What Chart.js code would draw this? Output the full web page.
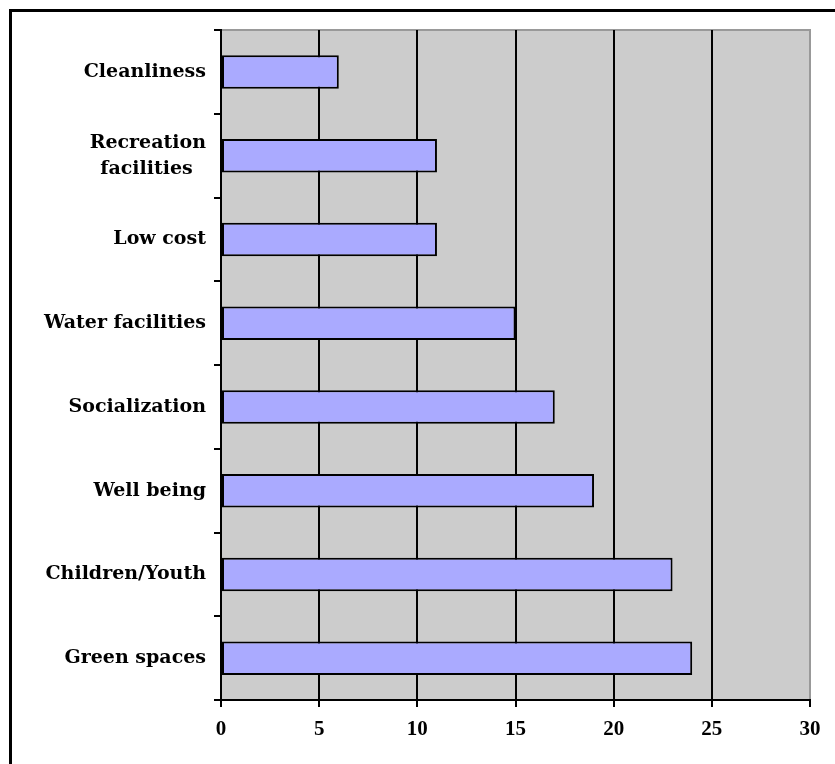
<!DOCTYPE html>
<html>
<head>
<meta charset="utf-8">
<script src="https://cdn.jsdelivr.net/npm/chart.js@4"></script>
<style>
    html, body { margin: 0; padding: 0; background: #fff; }
    #wrap { width: 835px; height: 764px; position: relative; }
</style>
</head>
<body>
<div id="wrap"><canvas id="chart" width="835" height="764"></canvas></div>
<script>
const categories = [
    "Cleanliness",
    ["Recreation", "facilities"],
    "Low cost",
    "Water facilities",
    "Socialization",
    "Well being",
    "Children/Youth",
    "Green spaces"
];
const counts = [6, 11, 11, 15, 17, 19, 23, 24];
const xTicks = [0, 5, 10, 15, 20, 25, 30];

const labelFont = { family: "'DejaVu Serif'", size: 19, weight: 'bold', lineHeight: 1.37 };
const tickFont = { family: "'Liberation Serif'", size: 21, weight: 'bold' };

// pad the shorter line of a two-line label so that lines look centred
const measure = document.createElement('canvas').getContext('2d');
measure.font = `bold ${labelFont.size}px ${labelFont.family}`;
function centreLines(label) {
    if (!Array.isArray(label)) return label;
    const widest = Math.max(...label.map(s => measure.measureText(s).width));
    const space = measure.measureText(' ').width;
    return label.map(s => {
        const n = Math.round((widest - measure.measureText(s).width) / 2 / space);
        return s + ' '.repeat(n);
    });
}

const plotBackground = {
    id: 'plotBackground',
    beforeDraw(chart) {
        const { ctx, chartArea: a } = chart;
        ctx.save();
        ctx.fillStyle = '#CCCCCC';
        ctx.fillRect(a.left, a.top, a.right - a.left, a.bottom - a.top);
        ctx.strokeStyle = '#999999';
        ctx.lineWidth = 2;
        ctx.beginPath();
        ctx.moveTo(a.left, a.top);
        ctx.lineTo(a.right, a.top);
        ctx.lineTo(a.right, a.bottom);
        ctx.stroke();
        ctx.restore();
    },
    afterDraw(chart) {
        const ctx = chart.ctx;
        ctx.save();
        ctx.strokeStyle = '#000';
        ctx.lineWidth = 3;
        ctx.strokeRect(10.5, 10.5, 1000, 1000);
        ctx.restore();
    }
};

new Chart(document.getElementById('chart'), {
    type: 'bar',
    data: {
        labels: categories,
        datasets: [{
            data: counts,
            backgroundColor: '#AAAAFF',
            borderColor: '#000000',
            borderWidth: 2,
            borderSkipped: false,
            barPercentage: 0.4,
            categoryPercentage: 1
        }]
    },
    options: {
        indexAxis: 'y',
        responsive: false,
        animation: false,
        devicePixelRatio: 1,
        layout: { padding: { top: 30, right: 25, left: 0, bottom: 0 } },
        plugins: {
            legend: { display: false },
            tooltip: { enabled: false }
        },
        scales: {
            x: {
                min: 0,
                max: 30,
                afterBuildTicks(scale) {
                    scale.ticks = xTicks.map(v => ({ value: v }));
                },
                afterFit(scale) { scale.height = 64; },
                border: { color: '#000', width: 2 },
                grid: {
                    lineWidth: 2,
                    color: c => c.tick.value === 0 ? 'rgba(0,0,0,0)' :
                        (c.tick.value === 30 ? '#999999' : '#000'),
                    tickColor: '#000',
                    tickLength: 7
                },
                ticks: { color: '#000', font: tickFont, padding: 10 }
            },
            y: {
                afterFit(scale) { scale.width = 221; },
                border: { color: '#000', width: 2 },
                grid: {
                    drawOnChartArea: false,
                    color: '#000',
                    lineWidth: 2,
                    tickLength: 7
                },
                ticks: {
                    color: '#000',
                    font: labelFont,
                    padding: 8,
                    autoSkip: false,
                    callback(value) { return centreLines(this.getLabelForValue(value)); }
                }
            }
        }
    },
    plugins: [plotBackground]
});
</script>
</body>
</html>
